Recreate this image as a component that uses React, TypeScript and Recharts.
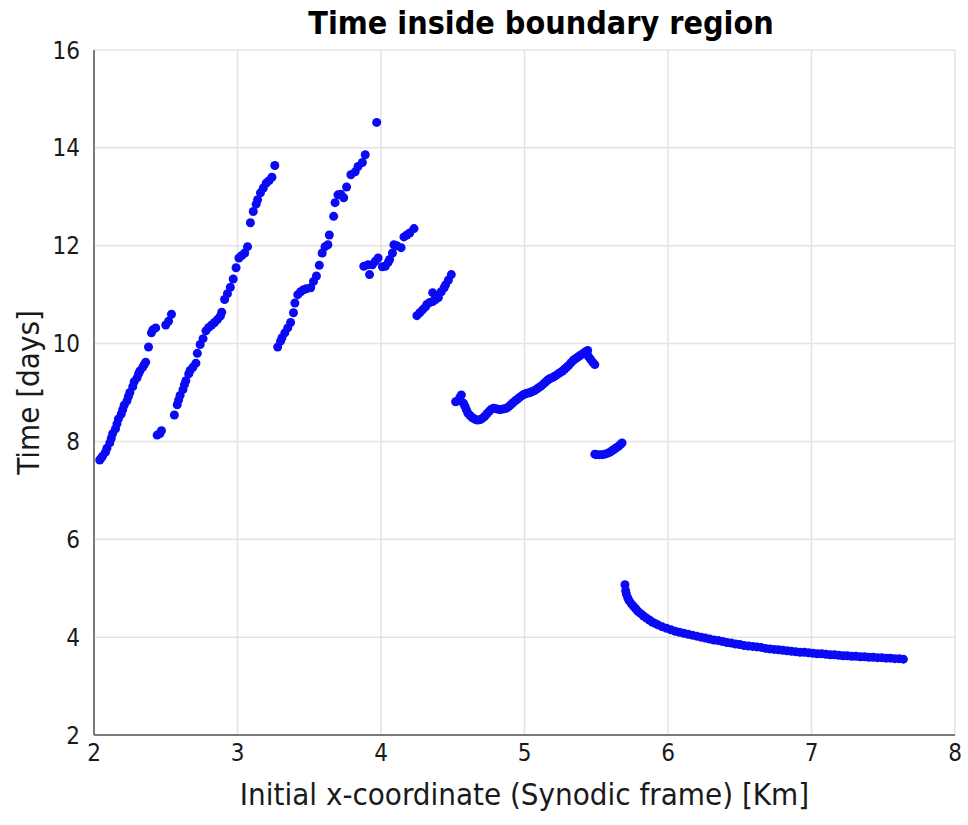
import React from 'react';
import { ScatterChart, Scatter, XAxis, YAxis, CartesianGrid } from 'recharts';

// Each branch of the scatter
const branchA = [
  { x: 2.04, y: 7.62 }, { x: 2.05, y: 7.66 }, { x: 2.06, y: 7.7 }, { x: 2.08, y: 7.78 }, { x: 2.09, y: 7.86 },
  { x: 2.11, y: 7.97 }, { x: 2.12, y: 8.06 }, { x: 2.13, y: 8.16 }, { x: 2.15, y: 8.26 }, { x: 2.16, y: 8.36 },
  { x: 2.17, y: 8.46 }, { x: 2.19, y: 8.56 }, { x: 2.2, y: 8.65 }, { x: 2.21, y: 8.74 }, { x: 2.23, y: 8.83 },
  { x: 2.24, y: 8.92 }, { x: 2.25, y: 9.0 }, { x: 2.27, y: 9.12 }, { x: 2.28, y: 9.22 }, { x: 2.3, y: 9.3 },
  { x: 2.31, y: 9.38 }, { x: 2.32, y: 9.44 }, { x: 2.34, y: 9.52 }, { x: 2.35, y: 9.57 }, { x: 2.36, y: 9.62 },
  { x: 2.38, y: 9.93 }, { x: 2.4, y: 10.22 }, { x: 2.41, y: 10.28 }, { x: 2.43, y: 10.32 }, { x: 2.5, y: 10.38 },
  { x: 2.52, y: 10.46 }, { x: 2.54, y: 10.6 },
];

const branchB = [
  { x: 2.44, y: 8.13 }, { x: 2.46, y: 8.16 }, { x: 2.47, y: 8.22 }, { x: 2.56, y: 8.54 }, { x: 2.58, y: 8.75 },
  { x: 2.59, y: 8.85 }, { x: 2.6, y: 8.94 }, { x: 2.62, y: 9.06 }, { x: 2.63, y: 9.16 }, { x: 2.64, y: 9.24 },
  { x: 2.66, y: 9.38 }, { x: 2.67, y: 9.45 }, { x: 2.69, y: 9.52 }, { x: 2.71, y: 9.6 }, { x: 2.72, y: 9.8 },
  { x: 2.74, y: 9.98 }, { x: 2.76, y: 10.1 }, { x: 2.78, y: 10.26 }, { x: 2.8, y: 10.33 }, { x: 2.82, y: 10.38 },
  { x: 2.84, y: 10.43 }, { x: 2.86, y: 10.49 }, { x: 2.88, y: 10.56 }, { x: 2.89, y: 10.64 }, { x: 2.91, y: 10.9 },
  { x: 2.93, y: 11.02 }, { x: 2.95, y: 11.15 }, { x: 2.97, y: 11.32 }, { x: 2.99, y: 11.55 }, { x: 3.01, y: 11.75 },
  { x: 3.03, y: 11.8 }, { x: 3.05, y: 11.85 }, { x: 3.07, y: 11.98 }, { x: 3.09, y: 12.47 }, { x: 3.11, y: 12.7 },
  { x: 3.13, y: 12.85 }, { x: 3.14, y: 12.94 }, { x: 3.16, y: 13.08 }, { x: 3.18, y: 13.18 }, { x: 3.2, y: 13.28 },
  { x: 3.22, y: 13.33 }, { x: 3.24, y: 13.4 }, { x: 3.26, y: 13.64 },
];

const branchC = [
  { x: 3.28, y: 9.93 }, { x: 3.3, y: 10.05 }, { x: 3.31, y: 10.12 }, { x: 3.33, y: 10.22 }, { x: 3.35, y: 10.32 },
  { x: 3.37, y: 10.43 }, { x: 3.39, y: 10.63 }, { x: 3.4, y: 10.83 }, { x: 3.42, y: 11.0 }, { x: 3.44, y: 11.06 },
  { x: 3.46, y: 11.1 }, { x: 3.48, y: 11.12 }, { x: 3.51, y: 11.14 }, { x: 3.53, y: 11.27 }, { x: 3.55, y: 11.38 },
  { x: 3.57, y: 11.6 }, { x: 3.59, y: 11.85 }, { x: 3.61, y: 11.98 }, { x: 3.63, y: 12.02 }, { x: 3.64, y: 12.22 },
  { x: 3.67, y: 12.6 }, { x: 3.68, y: 12.88 }, { x: 3.7, y: 13.04 }, { x: 3.72, y: 13.05 }, { x: 3.74, y: 12.98 },
  { x: 3.76, y: 13.2 }, { x: 3.79, y: 13.45 }, { x: 3.82, y: 13.51 }, { x: 3.84, y: 13.62 }, { x: 3.87, y: 13.7 },
  { x: 3.89, y: 13.86 },
];

const outlier = [{ x: 3.97, y: 14.52 }];

const branchD = [
  { x: 3.88, y: 11.58 }, { x: 3.91, y: 11.61 }, { x: 3.92, y: 11.41 }, { x: 3.94, y: 11.61 }, { x: 3.96, y: 11.68 },
  { x: 3.98, y: 11.75 }, { x: 4.01, y: 11.57 }, { x: 4.03, y: 11.58 }, { x: 4.05, y: 11.66 }, { x: 4.06, y: 11.72 },
  { x: 4.08, y: 11.85 }, { x: 4.09, y: 12.02 }, { x: 4.11, y: 12.0 }, { x: 4.14, y: 11.96 }, { x: 4.16, y: 12.18 },
  { x: 4.18, y: 12.22 }, { x: 4.2, y: 12.26 }, { x: 4.23, y: 12.35 },
];

const branchE = [
  { x: 4.25, y: 10.57 }, { x: 4.27, y: 10.63 }, { x: 4.29, y: 10.69 }, { x: 4.31, y: 10.75 }, { x: 4.32, y: 10.8 },
  { x: 4.34, y: 10.84 }, { x: 4.36, y: 10.86 }, { x: 4.36, y: 11.04 }, { x: 4.38, y: 10.9 }, { x: 4.4, y: 10.94 },
  { x: 4.42, y: 11.06 }, { x: 4.44, y: 11.14 }, { x: 4.45, y: 11.2 }, { x: 4.47, y: 11.3 }, { x: 4.49, y: 11.41 },
];

const branchF = [
  { x: 4.52, y: 8.81 }, { x: 4.535, y: 8.83 }, { x: 4.55, y: 8.9 }, { x: 4.56, y: 8.95 }, { x: 4.575, y: 8.78 },
  { x: 4.585, y: 8.72 }, { x: 4.595, y: 8.65 }, { x: 4.605, y: 8.58 }, { x: 4.62, y: 8.53 }, { x: 4.635, y: 8.49 },
  { x: 4.65, y: 8.46 }, { x: 4.665, y: 8.44 }, { x: 4.68, y: 8.44 }, { x: 4.695, y: 8.45 }, { x: 4.71, y: 8.48 },
  { x: 4.725, y: 8.52 }, { x: 4.74, y: 8.57 }, { x: 4.755, y: 8.62 }, { x: 4.77, y: 8.66 }, { x: 4.785, y: 8.68 },
  { x: 4.8, y: 8.67 }, { x: 4.815, y: 8.66 }, { x: 4.83, y: 8.65 }, { x: 4.845, y: 8.66 }, { x: 4.86, y: 8.67 },
  { x: 4.875, y: 8.68 }, { x: 4.89, y: 8.71 }, { x: 4.905, y: 8.75 }, { x: 4.92, y: 8.79 }, { x: 4.935, y: 8.83 },
  { x: 4.95, y: 8.86 }, { x: 4.965, y: 8.9 }, { x: 4.98, y: 8.93 }, { x: 4.995, y: 8.96 }, { x: 5.01, y: 8.98 },
  { x: 5.025, y: 8.99 }, { x: 5.04, y: 9.0 }, { x: 5.055, y: 9.02 }, { x: 5.07, y: 9.04 }, { x: 5.085, y: 9.07 },
  { x: 5.1, y: 9.1 }, { x: 5.115, y: 9.13 }, { x: 5.13, y: 9.17 }, { x: 5.145, y: 9.21 }, { x: 5.16, y: 9.25 },
  { x: 5.175, y: 9.28 }, { x: 5.19, y: 9.3 }, { x: 5.205, y: 9.32 }, { x: 5.22, y: 9.35 }, { x: 5.235, y: 9.38 },
  { x: 5.25, y: 9.41 }, { x: 5.265, y: 9.44 }, { x: 5.28, y: 9.48 }, { x: 5.295, y: 9.52 }, { x: 5.31, y: 9.56 },
  { x: 5.325, y: 9.61 }, { x: 5.34, y: 9.66 }, { x: 5.355, y: 9.69 }, { x: 5.37, y: 9.72 }, { x: 5.385, y: 9.75 },
  { x: 5.4, y: 9.78 }, { x: 5.415, y: 9.81 }, { x: 5.43, y: 9.84 }, { x: 5.44, y: 9.86 }, { x: 5.445, y: 9.74 },
  { x: 5.46, y: 9.68 }, { x: 5.475, y: 9.62 }, { x: 5.49, y: 9.57 },
];

const branchG = [
  { x: 5.49, y: 7.74 }, { x: 5.5, y: 7.73 }, { x: 5.52, y: 7.73 }, { x: 5.54, y: 7.73 }, { x: 5.56, y: 7.74 },
  { x: 5.58, y: 7.76 }, { x: 5.595, y: 7.78 }, { x: 5.61, y: 7.81 }, { x: 5.625, y: 7.84 }, { x: 5.64, y: 7.87 },
  { x: 5.655, y: 7.9 }, { x: 5.67, y: 7.94 }, { x: 5.68, y: 7.97 },
];

const branchH = [
  { x: 5.7, y: 5.07 }, { x: 5.705, y: 4.95 }, { x: 5.71, y: 4.88 }, { x: 5.72, y: 4.8 }, { x: 5.73, y: 4.74 },
  { x: 5.745, y: 4.68 }, { x: 5.76, y: 4.63 }, { x: 5.775, y: 4.58 }, { x: 5.79, y: 4.53 }, { x: 5.81, y: 4.48 },
  { x: 5.83, y: 4.43 }, { x: 5.85, y: 4.39 }, { x: 5.87, y: 4.35 }, { x: 5.89, y: 4.31 }, { x: 5.91, y: 4.28 },
  { x: 5.93, y: 4.25 }, { x: 5.96, y: 4.21 }, { x: 5.99, y: 4.18 }, { x: 6.02, y: 4.15 }, { x: 6.05, y: 4.12 },
  { x: 6.08, y: 4.1 }, { x: 6.11, y: 4.08 }, { x: 6.14, y: 4.06 }, { x: 6.17, y: 4.04 }, { x: 6.2, y: 4.02 },
  { x: 6.23, y: 4.0 }, { x: 6.26, y: 3.98 }, { x: 6.29, y: 3.96 }, { x: 6.32, y: 3.94 }, { x: 6.35, y: 3.93 },
  { x: 6.38, y: 3.91 }, { x: 6.41, y: 3.89 }, { x: 6.44, y: 3.88 }, { x: 6.47, y: 3.86 }, { x: 6.5, y: 3.85 },
  { x: 6.53, y: 3.83 }, { x: 6.56, y: 3.82 }, { x: 6.59, y: 3.81 }, { x: 6.62, y: 3.8 }, { x: 6.65, y: 3.79 },
  { x: 6.68, y: 3.77 }, { x: 6.71, y: 3.76 }, { x: 6.74, y: 3.75 }, { x: 6.77, y: 3.74 }, { x: 6.8, y: 3.73 },
  { x: 6.83, y: 3.72 }, { x: 6.86, y: 3.71 }, { x: 6.89, y: 3.7 }, { x: 6.92, y: 3.69 }, { x: 6.95, y: 3.69 },
  { x: 6.98, y: 3.68 }, { x: 7.01, y: 3.67 }, { x: 7.04, y: 3.66 }, { x: 7.07, y: 3.66 }, { x: 7.1, y: 3.65 },
  { x: 7.13, y: 3.64 }, { x: 7.16, y: 3.64 }, { x: 7.19, y: 3.63 }, { x: 7.22, y: 3.62 }, { x: 7.25, y: 3.62 },
  { x: 7.28, y: 3.61 }, { x: 7.31, y: 3.61 }, { x: 7.34, y: 3.6 }, { x: 7.37, y: 3.6 }, { x: 7.4, y: 3.59 },
  { x: 7.43, y: 3.59 }, { x: 7.46, y: 3.58 }, { x: 7.49, y: 3.58 }, { x: 7.52, y: 3.57 }, { x: 7.55, y: 3.57 },
  { x: 7.58, y: 3.56 }, { x: 7.61, y: 3.56 }, { x: 7.64, y: 3.55 },
];

const branches = [branchA, branchB, branchC, outlier, branchD, branchE, branchF, branchG, branchH];

const xTicks = [2, 3, 4, 5, 6, 7, 8];
const yTicks = [2, 4, 6, 8, 10, 12, 14, 16];

const FONT = "'DejaVu Sans Condensed', 'Liberation Sans Narrow', 'DejaVu Sans', sans-serif";
const AXIS = '#7a7a7a';

const Dot = (props: any) => <circle cx={props.cx} cy={props.cy} r={4.5} fill="#0a0af5" />;

const App = () => {
  return (
    <div style={{ position: 'absolute', left: 0, top: 0, width: 968, height: 825, background: '#fff' }}>
      <div
        style={{
          position: 'absolute', left: 0, top: 4, width: 1082, textAlign: 'center',
          fontFamily: FONT, fontWeight: 'bold', fontSize: 32, color: '#000',
        }}
      >
        Time inside boundary region
      </div>
      <ScatterChart width={968} height={825} margin={{ top: 50, right: 13, bottom: 0, left: 0 }}>
        <CartesianGrid stroke="#e3e3e3" strokeWidth={1.5} />
        <XAxis
          type="number" dataKey="x" domain={[2, 8]} ticks={xTicks} height={90}
          stroke={AXIS} strokeWidth={2} tickLine={false} tickSize={0} tickMargin={9}
          tick={{ fill: '#1a1a1a', fontSize: 24, fontFamily: FONT }}
          label={{ value: 'Initial x-coordinate (Synodic frame) [Km]', position: 'insideBottom', offset: 20, fill: '#1a1a1a', fontSize: 31, fontFamily: FONT }}
        />
        <XAxis xAxisId="top" orientation="top" type="number" dataKey="x" domain={[2, 8]} ticks={xTicks} height={0} stroke={AXIS} strokeWidth={2} tick={false} tickLine={false} />
        <YAxis
          type="number" dataKey="y" domain={[2, 16]} ticks={yTicks} width={94}
          stroke={AXIS} strokeWidth={2} tickLine={false} tickSize={0} tickMargin={14}
          tick={{ fill: '#1a1a1a', fontSize: 24, fontFamily: FONT }}
          label={{ value: 'Time [days]', angle: -90, position: 'insideLeft', offset: 28, fill: '#1a1a1a', fontSize: 31, fontFamily: FONT, style: { textAnchor: 'middle' } }}
        />
        <YAxis yAxisId="right" orientation="right" type="number" dataKey="y" domain={[2, 16]} ticks={yTicks} width={0} stroke={AXIS} strokeWidth={2} tick={false} tickLine={false} />
        {branches.map((b, i) => (
          <Scatter key={i} data={b} fill="#0a0af5" shape={Dot} isAnimationActive={false} />
        ))}
      </ScatterChart>
    </div>
  );
};

export default App;
